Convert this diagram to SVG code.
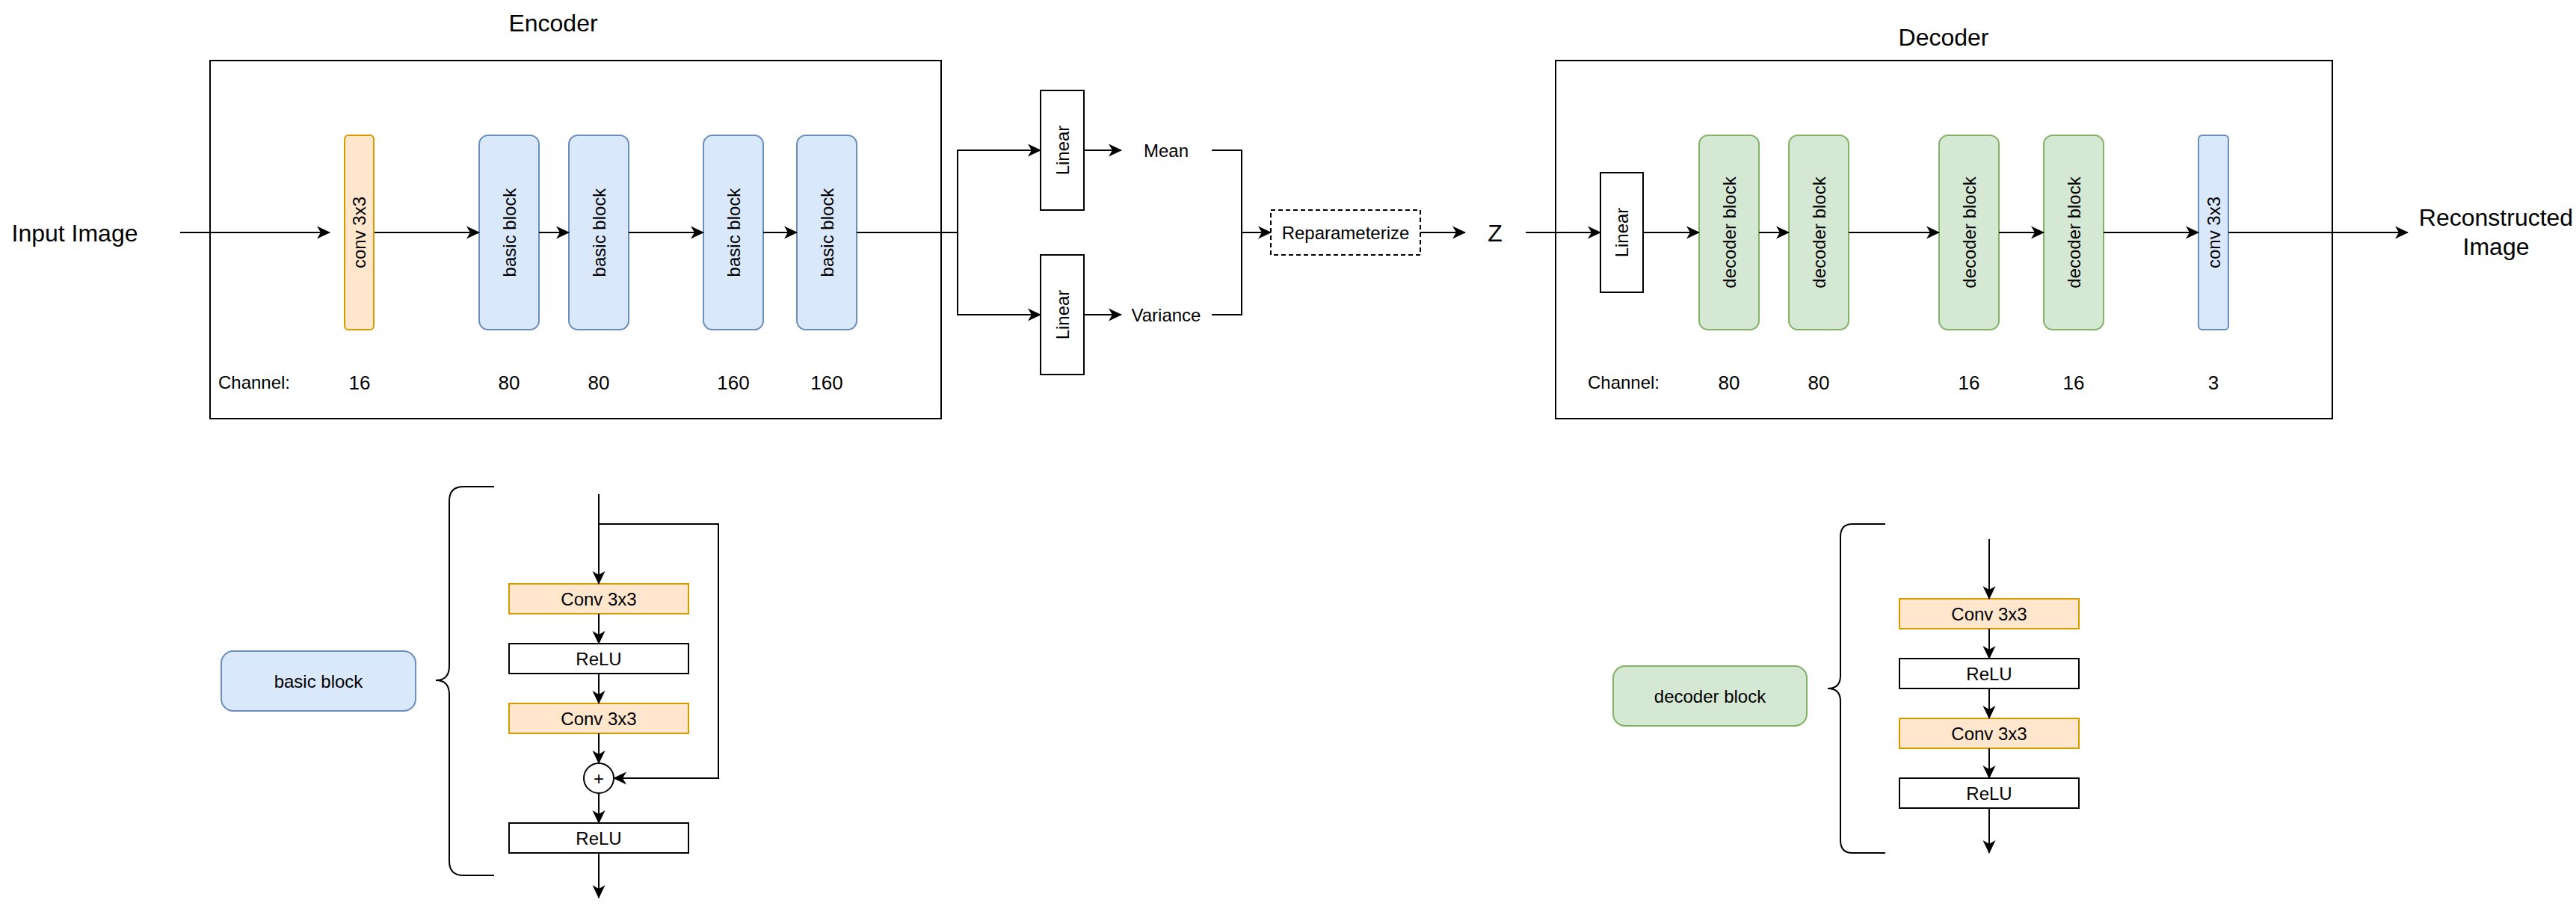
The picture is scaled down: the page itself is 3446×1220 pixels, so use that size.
<svg xmlns="http://www.w3.org/2000/svg" width="3446" height="1220" viewBox="0 0 3446 1220">
<defs>
<style>
text{font-family:"Liberation Sans",Arial,Helvetica,sans-serif;fill:#000;text-anchor:middle}
.big{font-size:32px}
.mid{font-size:24px}
.num{font-size:26px}
.frame{fill:#fff;stroke:#000;stroke-width:2}
.plain{fill:#fff;stroke:#000;stroke-width:2}
.orange{fill:#ffe6cc;stroke:#d79b00;stroke-width:2}
.blue{fill:#dae8fc;stroke:#6c8ebf;stroke-width:2}
.green{fill:#d5e8d4;stroke:#82b366;stroke-width:2}
.dash{fill:#fff;stroke:#000;stroke-width:2;stroke-dasharray:6 4}
.edge{fill:none;stroke:#000;stroke-width:2}
.arr{marker-end:url(#ah)}
</style>
<marker id="ah" markerUnits="userSpaceOnUse" markerWidth="18" markerHeight="18" viewBox="0 0 18 18" refX="17" refY="9" orient="auto">
<path d="M0,0.5 L18,9 L0,17.5 L5,9 z" fill="#000"/>
</marker>
</defs>
<rect width="3446" height="1220" fill="#fff"/>

<!-- Encoder frame -->
<g id="encoder">
<rect class="frame" x="281" y="81" width="978" height="479"/>
<text class="big" x="740" y="42">Encoder</text>
<text class="mid" x="340" y="520">Channel:</text>
<text class="num" x="481" y="521">16</text>
<text class="num" x="681" y="521">80</text>
<text class="num" x="801" y="521">80</text>
<text class="num" x="981" y="521">160</text>
<text class="num" x="1106" y="521">160</text>
</g>

<!-- Decoder frame -->
<g id="decoder">
<rect class="frame" x="2081" y="81" width="1039" height="479"/>
<text class="big" x="2600" y="61">Decoder</text>
<text class="mid" x="2172" y="520">Channel:</text>
<text class="num" x="2313" y="521">80</text>
<text class="num" x="2433" y="521">80</text>
<text class="num" x="2634" y="521">16</text>
<text class="num" x="2774" y="521">16</text>
<text class="num" x="2961" y="521">3</text>
</g>

<g id="input-label"><text class="big" x="100" y="323">Input Image</text></g>

<g id="enc-conv">
<rect class="orange" x="461" y="181" width="39" height="260" rx="5"/>
<text class="mid" x="480.5" y="311" dy="8.5" transform="rotate(-90 480.5 311)">conv 3x3</text>
</g>
<g id="enc-bb1">
<rect class="blue" x="641" y="181" width="80" height="260" rx="12"/>
<text class="mid" x="681" y="311" dy="8.5" transform="rotate(-90 681 311)">basic block</text>
</g>
<g id="enc-bb2">
<rect class="blue" x="761" y="181" width="80" height="260" rx="12"/>
<text class="mid" x="801" y="311" dy="8.5" transform="rotate(-90 801 311)">basic block</text>
</g>
<g id="enc-bb3">
<rect class="blue" x="941" y="181" width="80" height="260" rx="12"/>
<text class="mid" x="981" y="311" dy="8.5" transform="rotate(-90 981 311)">basic block</text>
</g>
<g id="enc-bb4">
<rect class="blue" x="1066" y="181" width="80" height="260" rx="12"/>
<text class="mid" x="1106" y="311" dy="8.5" transform="rotate(-90 1106 311)">basic block</text>
</g>

<g id="linear-mean">
<rect class="plain" x="1392" y="121" width="58" height="160"/>
<text class="mid" x="1421" y="201" dy="8.5" transform="rotate(-90 1421 201)">Linear</text>
</g>
<g id="linear-var">
<rect class="plain" x="1392" y="341" width="58" height="160"/>
<text class="mid" x="1421" y="421" dy="8.5" transform="rotate(-90 1421 421)">Linear</text>
</g>
<g id="mean"><text class="mid" x="1560" y="209.5">Mean</text></g>
<g id="variance"><text class="mid" x="1560" y="429.5">Variance</text></g>
<g id="reparam">
<rect class="dash" x="1700" y="281" width="200" height="60"/>
<text class="mid" x="1800" y="319.5">Reparameterize</text>
</g>
<g id="z"><text class="big" x="2000" y="322.5">Z</text></g>

<g id="dec-linear">
<rect class="plain" x="2141" y="231" width="57" height="160"/>
<text class="mid" x="2169.5" y="311" dy="8.5" transform="rotate(-90 2169.5 311)">Linear</text>
</g>
<g id="dec-db1">
<rect class="green" x="2273" y="181" width="80" height="260" rx="12"/>
<text class="mid" x="2313" y="311" dy="8.5" transform="rotate(-90 2313 311)">decoder block</text>
</g>
<g id="dec-db2">
<rect class="green" x="2393" y="181" width="80" height="260" rx="12"/>
<text class="mid" x="2433" y="311" dy="8.5" transform="rotate(-90 2433 311)">decoder block</text>
</g>
<g id="dec-db3">
<rect class="green" x="2594" y="181" width="80" height="260" rx="12"/>
<text class="mid" x="2634" y="311" dy="8.5" transform="rotate(-90 2634 311)">decoder block</text>
</g>
<g id="dec-db4">
<rect class="green" x="2734" y="181" width="80" height="260" rx="12"/>
<text class="mid" x="2774" y="311" dy="8.5" transform="rotate(-90 2774 311)">decoder block</text>
</g>
<g id="dec-conv">
<rect class="blue" x="2941" y="181" width="40" height="260" rx="5"/>
<text class="mid" x="2961" y="311" dy="8.5" transform="rotate(-90 2961 311)">conv 3x3</text>
</g>
<g id="output-label">
<text class="big" x="3339" y="302">Reconstructed</text>
<text class="big" x="3339" y="341">Image</text>
</g>

<!-- basic block detail -->
<g id="legend-basic">
<rect class="blue" x="296" y="871" width="260" height="80" rx="16"/>
<text class="mid" x="426" y="919.5">basic block</text>
</g>
<g id="brace-basic">
<path class="edge" d="M661,651 H620 Q601,651 601,670 V891 Q601,910 583,910 Q601,910 601,929 V1152 Q601,1171 620,1171 H661"/>
</g>
<g id="bb-conv1"><rect class="orange" x="681" y="781" width="240" height="40"/><text class="mid" x="801" y="809.5">Conv 3x3</text></g>
<g id="bb-relu1"><rect class="plain" x="681" y="861" width="240" height="40"/><text class="mid" x="801" y="889.5">ReLU</text></g>
<g id="bb-conv2"><rect class="orange" x="681" y="941" width="240" height="40"/><text class="mid" x="801" y="969.5">Conv 3x3</text></g>
<g id="bb-add"><circle class="plain" cx="801" cy="1041" r="20"/><text class="mid" x="801" y="1049.5">+</text></g>
<g id="bb-relu2"><rect class="plain" x="681" y="1101" width="240" height="40"/><text class="mid" x="801" y="1129.5">ReLU</text></g>

<!-- decoder block detail -->
<g id="legend-decoder">
<rect class="green" x="2158" y="891" width="259" height="80" rx="16"/>
<text class="mid" x="2287.5" y="939.5">decoder block</text>
</g>
<g id="brace-decoder">
<path class="edge" d="M2522,701 H2478 Q2462,701 2462,718 V904 Q2462,921 2445,921 Q2462,921 2462,938 V1124 Q2462,1141 2478,1141 H2522"/>
</g>
<g id="db-conv1"><rect class="orange" x="2541" y="801" width="240" height="40"/><text class="mid" x="2661" y="829.5">Conv 3x3</text></g>
<g id="db-relu1"><rect class="plain" x="2541" y="881" width="240" height="40"/><text class="mid" x="2661" y="909.5">ReLU</text></g>
<g id="db-conv2"><rect class="orange" x="2541" y="961" width="240" height="40"/><text class="mid" x="2661" y="989.5">Conv 3x3</text></g>
<g id="db-relu2"><rect class="plain" x="2541" y="1041" width="240" height="40"/><text class="mid" x="2661" y="1069.5">ReLU</text></g>

<g id="connectors">
<path class="edge arr" d="M241,311 H441"/>
<path class="edge arr" d="M501,311 H641"/>
<path class="edge arr" d="M721,311 H761"/>
<path class="edge arr" d="M841,311 H941"/>
<path class="edge arr" d="M1021,311 H1066"/>
<path class="edge arr" d="M1146,311 H1281 V201 H1392"/>
<path class="edge arr" d="M1146,311 H1281 V421 H1392"/>
<path class="edge arr" d="M1450,201 H1500"/>
<path class="edge arr" d="M1450,421 H1500"/>
<path class="edge" d="M1621,201 H1661 V421 H1621"/>
<path class="edge arr" d="M1661,311 H1700"/>
<path class="edge arr" d="M1900,311 H1960"/>
<path class="edge arr" d="M2041,311 H2141"/>
<path class="edge arr" d="M2198,311 H2273"/>
<path class="edge arr" d="M2353,311 H2393"/>
<path class="edge arr" d="M2473,311 H2594"/>
<path class="edge arr" d="M2674,311 H2734"/>
<path class="edge arr" d="M2814,311 H2941"/>
<path class="edge arr" d="M2981,311 H3221"/>
<path class="edge arr" d="M801,661 V781"/>
<path class="edge arr" d="M801,701 H961 V1041 H821"/>
<path class="edge arr" d="M801,821 V861"/>
<path class="edge arr" d="M801,901 V941"/>
<path class="edge arr" d="M801,981 V1021"/>
<path class="edge arr" d="M801,1061 V1101"/>
<path class="edge arr" d="M801,1141 V1201"/>
<path class="edge arr" d="M2661,721 V801"/>
<path class="edge arr" d="M2661,841 V881"/>
<path class="edge arr" d="M2661,921 V961"/>
<path class="edge arr" d="M2661,1001 V1041"/>
<path class="edge arr" d="M2661,1081 V1141"/>
</g>
</svg>
